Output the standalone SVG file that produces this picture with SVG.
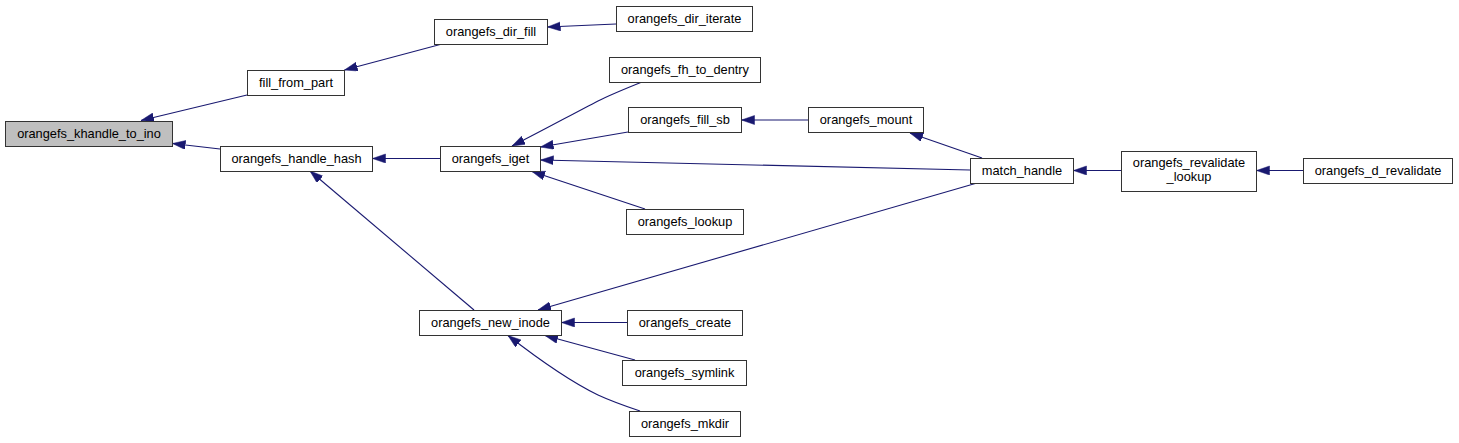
<svg xmlns="http://www.w3.org/2000/svg" width="1459" height="443" viewBox="0 0 1459 443">
<style>
.n rect{fill:#ffffff;stroke:#333333;stroke-width:1}
.n text{font-family:"Liberation Sans",Arial,sans-serif;font-size:12.8px;fill:#000000;text-anchor:middle}
.e path{fill:none;stroke:#191970;stroke-width:1.1;marker-end:url(#ah)}
</style>
<defs>
<marker id="ah" markerUnits="userSpaceOnUse" markerWidth="14" markerHeight="10" refX="13" refY="4.5" orient="auto">
<path d="M0,0 L13,4.5 L0,9 z" fill="#191970" stroke="#191970" stroke-width="0.5"/>
</marker>
</defs>
<rect width="1459" height="443" fill="#ffffff"/>
<g id="edges" class="e">
<path d="M247,95 L141,120.5"/>
<path d="M220,149 L172.5,143.5"/>
<path d="M442,44 L344.5,70"/>
<path d="M616,24 L547.5,27"/>
<path d="M440,158.5 L372.5,158.5"/>
<path d="M474,310 L310,171"/>
<path d="M642,82 C627,88 612,94 598,101 C571,115 538,133 512,146"/>
<path d="M628,132 L540.5,147"/>
<path d="M970,170 L540.5,160"/>
<path d="M645,209 L532,171.5"/>
<path d="M808,120 L741.5,120"/>
<path d="M982,158 L910,133"/>
<path d="M977,183 L538,310"/>
<path d="M1121,170.5 L1073.5,170.5"/>
<path d="M1303,170.5 L1256.5,170.5"/>
<path d="M627,322.5 L561.5,322.5"/>
<path d="M635,360 L545,335.5"/>
<path d="M640,411 C625,406 611,401 598,395 C567,380 537,358 508,335.5"/>
</g>
<g id="node_khandle_to_ino" class="n"><rect x="5.5" y="121.5" width="167" height="25" style="fill:#bfbfbf"/><text x="89" y="138">orangefs_khandle_to_ino</text></g>
<g id="node_fill_from_part" class="n"><rect x="247.5" y="70.5" width="97" height="25"/><text x="296" y="87">fill_from_part</text></g>
<g id="node_handle_hash" class="n"><rect x="220.5" y="146.5" width="152" height="25"/><text x="296.5" y="163">orangefs_handle_hash</text></g>
<g id="node_dir_fill" class="n"><rect x="434.5" y="19.5" width="113" height="25"/><text x="491" y="36">orangefs_dir_fill</text></g>
<g id="node_dir_iterate" class="n"><rect x="616.5" y="6.5" width="136" height="25"/><text x="684.5" y="23">orangefs_dir_iterate</text></g>
<g id="node_fh_to_dentry" class="n"><rect x="609.5" y="57.5" width="151" height="25"/><text x="685" y="74">orangefs_fh_to_dentry</text></g>
<g id="node_fill_sb" class="n"><rect x="628.5" y="107.5" width="113" height="25"/><text x="685" y="124">orangefs_fill_sb</text></g>
<g id="node_iget" class="n"><rect x="440.5" y="146.5" width="100" height="25"/><text x="490.5" y="163">orangefs_iget</text></g>
<g id="node_lookup" class="n"><rect x="626.5" y="209.5" width="117" height="25"/><text x="685" y="226">orangefs_lookup</text></g>
<g id="node_new_inode" class="n"><rect x="419.5" y="310.5" width="142" height="25"/><text x="490.5" y="327">orangefs_new_inode</text></g>
<g id="node_create" class="n"><rect x="627.5" y="310.5" width="115" height="25"/><text x="685" y="327">orangefs_create</text></g>
<g id="node_symlink" class="n"><rect x="622.5" y="360.5" width="124" height="25"/><text x="684.5" y="377">orangefs_symlink</text></g>
<g id="node_mkdir" class="n"><rect x="629.5" y="411.5" width="111" height="25"/><text x="685" y="428">orangefs_mkdir</text></g>
<g id="node_mount" class="n"><rect x="808.5" y="107.5" width="115" height="25"/><text x="866" y="124">orangefs_mount</text></g>
<g id="node_match_handle" class="n"><rect x="970.5" y="158.5" width="103" height="25"/><text x="1022" y="175">match_handle</text></g>
<g id="node_revalidate_lookup" class="n"><rect x="1121.5" y="151.5" width="135" height="40"/><text x="1189" y="166.5">orangefs_revalidate</text><text x="1189" y="180.5">_lookup</text></g>
<g id="node_d_revalidate" class="n"><rect x="1303.5" y="158.5" width="149" height="25"/><text x="1378" y="175">orangefs_d_revalidate</text></g>
</svg>
